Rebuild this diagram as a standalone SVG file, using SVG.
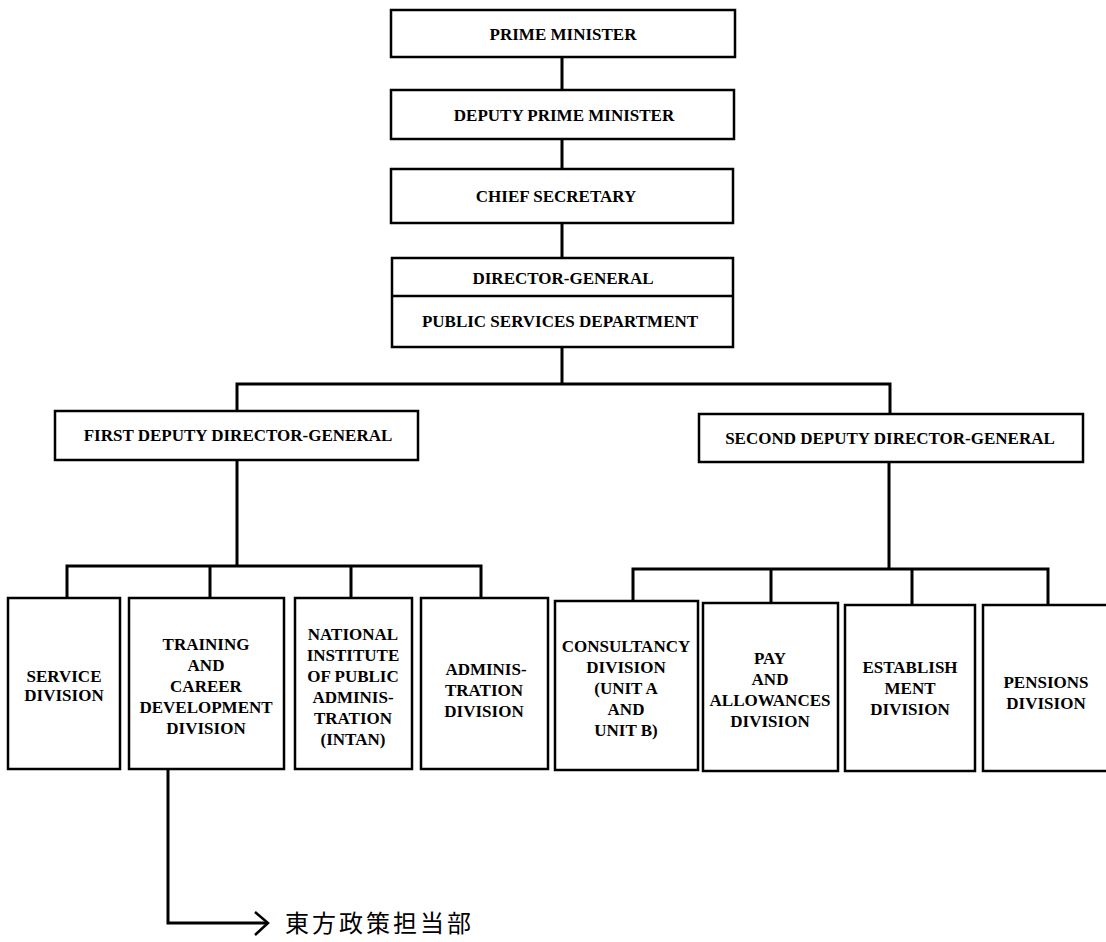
<svg xmlns="http://www.w3.org/2000/svg" width="1106" height="942" viewBox="0 0 1106 942">
<style>
.box{fill:#fff;stroke:#000;stroke-width:2.5}
.ln{fill:none;stroke:#000;stroke-width:3}
.t{font-family:"Liberation Serif","Times New Roman",serif;font-weight:bold;font-size:17px;fill:#000;text-anchor:middle}
.jp{font-family:"Noto Sans CJK JP","Noto Sans CJK SC",sans-serif;font-size:24px;letter-spacing:3px;fill:#000}
</style>
<rect width="1106" height="942" fill="#fff"/>
<g id="connectors">
<path class="ln" d="M562 57V90M562 139V169M562 223V258M562 347V384"/>
<path class="ln" d="M237 411V384H890V414"/>
<path class="ln" d="M237 460V566M67 598V566H481V598M210 566V598M351 566V598"/>
<path class="ln" d="M889 462V569M633 601V569H1048V605M771 569V603M912 569V605"/>
<path class="ln" d="M168 770V923H268"/>
<polyline fill="none" stroke="#000" stroke-width="2.5" points="255,912 268,923 255,935"/>
</g>
<g id="pm"><rect class="box" x="391" y="10" width="344" height="47"/><text class="t" x="563" y="40">PRIME MINISTER</text></g>
<g id="dpm"><rect class="box" x="391" y="90" width="343" height="49"/><text class="t" x="564" y="121">DEPUTY PRIME MINISTER</text></g>
<g id="cs"><rect class="box" x="391" y="169" width="342" height="54"/><text class="t" x="556" y="202">CHIEF SECRETARY</text></g>
<g id="dg"><rect class="box" x="392" y="258" width="341" height="89"/><line x1="392" y1="296" x2="733" y2="296" stroke="#000" stroke-width="2.5"/><text class="t" x="563" y="284">DIRECTOR-GENERAL</text><text class="t" x="560" y="327">PUBLIC SERVICES DEPARTMENT</text></g>
<g id="fddg"><rect class="box" x="55" y="411" width="363" height="49"/><text class="t" x="238" y="441">FIRST DEPUTY DIRECTOR-GENERAL</text></g>
<g id="sddg"><rect class="box" x="699" y="414" width="384" height="48"/><text class="t" x="890" y="444">SECOND DEPUTY DIRECTOR-GENERAL</text></g>
<g id="service"><rect class="box" x="8" y="598" width="112" height="171"/><text class="t" x="64" y="682">SERVICE</text><text class="t" x="64" y="701">DIVISION</text></g>
<g id="training"><rect class="box" x="129" y="598" width="155" height="171"/><text class="t" x="206" y="650">TRAINING</text><text class="t" x="206" y="671">AND</text><text class="t" x="206" y="692">CAREER</text><text class="t" x="206" y="713">DEVELOPMENT</text><text class="t" x="206" y="734">DIVISION</text></g>
<g id="intan"><rect class="box" x="295" y="598" width="117" height="171"/><text class="t" x="353" y="640">NATIONAL</text><text class="t" x="353" y="661">INSTITUTE</text><text class="t" x="353" y="682">OF PUBLIC</text><text class="t" x="353" y="703">ADMINIS-</text><text class="t" x="353" y="724">TRATION</text><text class="t" x="353" y="745">(INTAN)</text></g>
<g id="admin"><rect class="box" x="421" y="598" width="127" height="171"/><text class="t" x="486" y="675">ADMINIS-</text><text class="t" x="484" y="696">TRATION</text><text class="t" x="484" y="717">DIVISION</text></g>
<g id="consultancy"><rect class="box" x="555" y="601" width="143" height="169"/><text class="t" x="626" y="652">CONSULTANCY</text><text class="t" x="626" y="673">DIVISION</text><text class="t" x="626" y="694">(UNIT A</text><text class="t" x="626" y="715">AND</text><text class="t" x="626" y="736">UNIT B)</text></g>
<g id="pay"><rect class="box" x="703" y="603" width="135" height="168"/><text class="t" x="770" y="664">PAY</text><text class="t" x="770" y="685">AND</text><text class="t" x="770" y="706">ALLOWANCES</text><text class="t" x="770" y="727">DIVISION</text></g>
<g id="establishment"><rect class="box" x="845" y="605" width="130" height="166"/><text class="t" x="910" y="673">ESTABLISH</text><text class="t" x="910" y="694">MENT</text><text class="t" x="910" y="715">DIVISION</text></g>
<g id="pensions"><rect class="box" x="983" y="605" width="130" height="166"/><text class="t" x="1046" y="688">PENSIONS</text><text class="t" x="1046" y="709">DIVISION</text></g>
<g id="note"><text class="jp" x="285" y="932">東方政策担当部</text></g>
</svg>
